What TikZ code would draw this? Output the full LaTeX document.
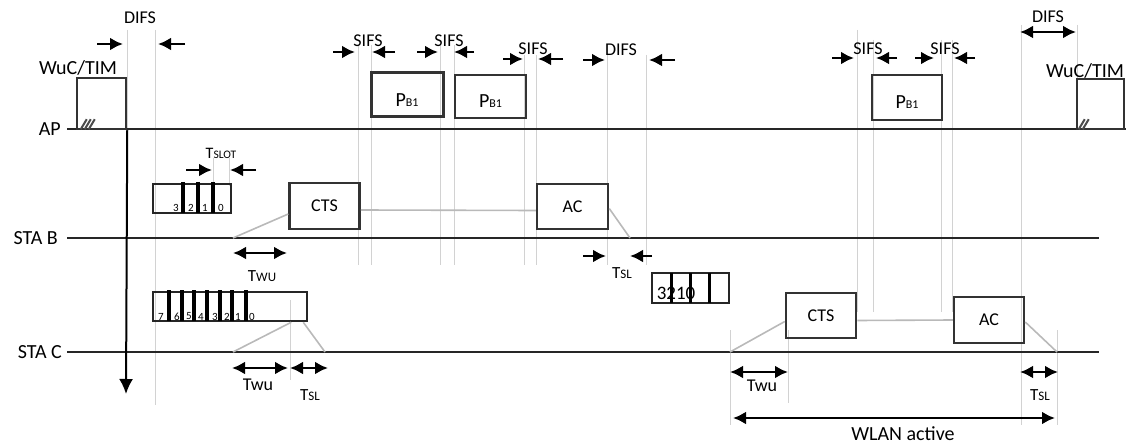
\documentclass[tikz,border=0pt]{standalone}
\usepackage{fontspec}
\setmainfont{Carlito}
\usetikzlibrary{arrows.meta}

\newcommand{\fsz}[1]{\fontsize{#1}{#1}\selectfont}
\newcommand{\pbone}{P{\fsz{12}B1}}

\begin{document}
\begin{tikzpicture}[
    x=1pt, y=-1pt,
    font=\fsz{18},
    >={Latex[length=13pt,width=13pt]},
    lane/.style={line width=2.8pt, draw=black!85},
    lanename/.style={anchor=east, font=\fsz{20}, inner sep=0pt},
    frame/.style={rectangle, draw=black!80, line width=2.5pt, inner sep=0pt, font=\fsz{18}},
    pbtext/.style={yshift=-5pt, font=\fsz{20}, inner sep=0pt},
    slotbox/.style={rectangle, draw=black!85, line width=2.5pt, inner sep=0pt},
    slotbar/.style={line width=4.2pt},
    digit/.style={font=\fsz{11}, inner sep=0pt},
    guide/.style={draw=gray!35, line width=0.9pt},
    link/.style={draw=gray!55, line width=1.6pt},
    hatch/.style={line width=2pt, draw=black!70},
    inarrow/.style={->, line width=2.6pt},
    span/.style={<->, line width=2.6pt},
    gaplbl/.style={inner sep=0pt}
]
\useasboundingbox (0,0) rectangle (1126,446);

\foreach \gx/\gt/\gb in {127/30/129, 155/30/405, 213/158/186, 229/158/186,
    358/45/265, 371/45/265, 440/45/265, 454/45/265, 524/55/265, 536/55/265,
    607/55/265, 646/55/265, 857/30/312, 873/40/312, 941/40/312, 952/40/312,
    1021/25/425, 1077/25/80, 290/300/380, 730/330/425, 788/330/403, 1057/330/425}
    \draw[guide] (\gx,\gt) -- (\gx,\gb);

\node[lanename] (ap) at (61,129) {AP};
\node[lanename] (stab) at (58,238) {STA B};
\node[lanename] (stac) at (62,352) {STA C};
\coordinate (apend) at (1126,129);
\coordinate (stabend) at (1099,238);
\coordinate (stacend) at (1099,352);
\draw[lane] (ap.east) ++(6,0) -- (apend);
\draw[lane] (stab.east) ++(9,0) -- (stabend);
\draw[lane] (stac.east) ++(5,0) -- (stacend);

\node[frame, minimum width=49pt, minimum height=51pt] (wuca) at (101.5,103.5) {};
\node[gaplbl, font=\fsz{20}] (wucalbl) at (78,68) {WuC/TIM};
\node[frame, minimum width=47pt, minimum height=50pt] (wucb) at (1100.5,104) {};
\node[gaplbl, font=\fsz{20}] (wucblbl) at (1085,71) {WuC/TIM};
\foreach \h in {0,4,8}
    \draw[hatch] ([shift={(5+\h,-1)}]wuca.south west) -- ++(6,-10);
\foreach \h in {0,4}
    \draw[hatch] ([shift={(3+\h,-1)}]wucb.south west) -- ++(6,-10);

\coordinate (wakeend) at (126,394);
\draw[-{Latex[length=15pt,width=14pt]}, line width=2pt] (wuca.south east) -- (wakeend);

\node[frame, line width=3pt, minimum width=72pt, minimum height=44pt, label={[pbtext]center:\pbone}] (pba) at (407,95) {};
\node[frame, line width=2.2pt, minimum width=71pt, minimum height=43pt, label={[pbtext]center:\pbone}] (pbb) at (490.5,96.5) {};
\node[frame, minimum width=70pt, minimum height=45pt, label={[pbtext]center:\pbone}] (pbc) at (907,97.5) {};

\node[frame, minimum width=70pt, minimum height=46pt] (ctsb) at (324.5,206) {CTS};
\node[frame, minimum width=71pt, minimum height=45pt] (acb) at (572.5,206.5) {\raisebox{-3pt}{AC}};
\node[frame, minimum width=70pt, minimum height=45pt] (ctsc) at (821,315.5) {CTS};
\node[frame, minimum width=70pt, minimum height=46pt] (acc) at (989,320) {AC};

\node[slotbox, minimum width=78pt, minimum height=29pt] (slotb) at (192,198.5) {};
\foreach \bx in {183,198,213}
    \draw[slotbar] (\bx,182) -- (\bx,213);
\foreach \d/\dx in {3/176,2/191,1/205,0/221}
    \node[digit] (db\d) at (\dx,208) {\d};

\node[slotbox, minimum width=154pt, minimum height=29pt] (slotc) at (230,306.5) {};
\foreach \bx in {169,182,194,207,220,232,246}
    \draw[slotbar] (\bx,290) -- (\bx,321);
\foreach \d/\dx in {7/161,6/177,5/189,4/201,3/215,2/227,1/238,0/252}
    \node[digit] (dc\d) at (\dx,316.5) {\d};

\node[slotbox, minimum width=77pt, minimum height=30pt] (slotd) at (690.5,288) {};
\foreach \bx in {671,690,709}
    \draw[line width=3pt] (\bx,273) -- (\bx,303);
\node[gaplbl, font=\fsz{19}] (slotdtxt) at (676,293) {3210};

\coordinate (bwake) at (233,238);
\coordinate (bsleep) at (630,238);
\coordinate (cwake) at (233,352);
\coordinate (csleep) at (325,352);
\coordinate (dwake) at (730,352);
\coordinate (dsleep) at (1057,352);
\draw[link] (bwake) -- ([yshift=-8pt]ctsb.west);
\draw[link] ([yshift=-4pt]ctsb.east) -- ([yshift=-4pt]acb.west);
\draw[link] ([yshift=-2pt]acb.east) -- (bsleep);
\draw[link] (cwake) -- ([xshift=-17pt]slotc.south east);
\draw[link] ([xshift=-5pt]slotc.south east) -- (csleep);
\draw[link] (dwake) -- ([yshift=-6pt]ctsc.west);
\draw[link] ([yshift=-5pt]ctsc.east) -- (acc.west);
\draw[link] ([yshift=-2pt]acc.east) -- (dsleep);

\foreach \n/\la/\lb/\ra/\rb/\yy in {difsa/97/123/185/158/44, sifsa/333/355/395/372/52,
    sifsb/417/438/474/454/52, sifsc/503/523/563/538/59, difsb/583/605/675/649/60,
    sifsd/832/854/897/876/58, sifse/915/934/975/954/58, tslot/186/212/256/230/170,
    tslb/583/606/652/630/256}{
    \coordinate (\n-l0) at (\la,\yy);
    \coordinate (\n-l1) at (\lb,\yy);
    \coordinate (\n-r0) at (\ra,\yy);
    \coordinate (\n-r1) at (\rb,\yy);
    \draw[inarrow] (\n-l0) -- (\n-l1);
    \draw[inarrow] (\n-r0) -- (\n-r1);
}

\foreach \n/\xa/\xb/\yy in {twub/233/287/253, twuc/232/288/368, tslc/290/328/368,
    twud/730/788/372, tsld/1020/1058/372, wlan/733/1055/418, difsc/1020/1076/32}{
    \coordinate (\n-a) at (\xa,\yy);
    \coordinate (\n-b) at (\xb,\yy);
    \draw[span] (\n-a) -- (\n-b);
}

\node[gaplbl] (difsalbl) at (140,18) {DIFS};
\node[gaplbl] (sifsalbl) at (368,41) {SIFS};
\node[gaplbl] (sifsblbl) at (449,41) {SIFS};
\node[gaplbl] (sifsclbl) at (533,49) {SIFS};
\node[gaplbl] (difsblbl) at (621,50) {DIFS};
\node[gaplbl] (sifsdlbl) at (868,49) {SIFS};
\node[gaplbl] (sifselbl) at (945,49) {SIFS};
\node[gaplbl] (difsclbl) at (1048,17) {DIFS};
\node[gaplbl, font=\fsz{16}] (tslotlbl) at (221,153) {T{\fsz{11.5}SLOT}};
\node[gaplbl, font=\fsz{17}] (tslblbl) at (622,273) {T{\fsz{13}SL}};
\node[gaplbl, font=\fsz{17}] (twublbl) at (262,276) {T{\fsz{13}WU}};
\node[gaplbl] (twuclbl) at (258,385) {Twu};
\node[gaplbl, font=\fsz{17}] (tslclbl) at (310,395) {T{\fsz{13}SL}};
\node[gaplbl] (twudlbl) at (762,386) {Twu};
\node[gaplbl, font=\fsz{17}] (tsldlbl) at (1040,395) {T{\fsz{13}SL}};
\node[gaplbl, font=\fsz{20}] (wlanlbl) at (903,434) {WLAN active};

\end{tikzpicture}
\end{document}
